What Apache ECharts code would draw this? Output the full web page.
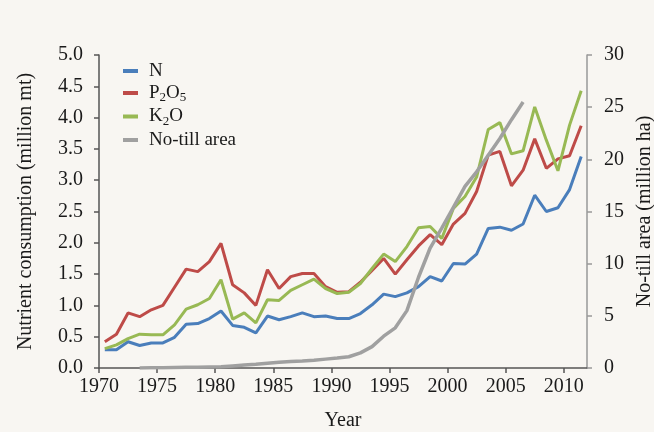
<!DOCTYPE html>
<html>
<head>
<meta charset="utf-8">
<script src="https://cdn.jsdelivr.net/npm/echarts@6/dist/echarts.min.js"></script>
<style>
    html, body { margin: 0; padding: 0; background: #f8f6f2; }
    #chart { width: 654px; height: 432px; }
</style>
</head>
<body>
<div id="chart"></div>
<script>
// years 1970 - 2011
var years = [];
for (var y = 1970; y <= 2011; y++) years.push(String(y));

var nitrogen = [0.29, 0.29, 0.42, 0.36, 0.40, 0.40, 0.49, 0.70, 0.71, 0.79,
    0.91, 0.68, 0.65, 0.56, 0.83, 0.77, 0.82, 0.88, 0.82, 0.83,
    0.79, 0.79, 0.87, 1.01, 1.18, 1.14, 1.20, 1.30, 1.46, 1.39,
    1.67, 1.66, 1.82, 2.23, 2.25, 2.20, 2.30, 2.76, 2.50, 2.56,
    2.85, 3.38];
var phosphate = [0.42, 0.54, 0.88, 0.82, 0.93, 1.00, 1.29, 1.58, 1.54, 1.70,
    1.99, 1.33, 1.20, 1.00, 1.57, 1.27, 1.46, 1.51, 1.51, 1.30,
    1.21, 1.22, 1.37, 1.56, 1.75, 1.50, 1.73, 1.95, 2.13, 1.97,
    2.30, 2.47, 2.82, 3.40, 3.46, 2.91, 3.16, 3.66, 3.19, 3.34,
    3.39, 3.87];
var potash = [0.31, 0.37, 0.47, 0.54, 0.53, 0.53, 0.69, 0.94, 1.01, 1.11,
    1.41, 0.78, 0.88, 0.72, 1.09, 1.08, 1.24, 1.33, 1.42, 1.27,
    1.19, 1.21, 1.35, 1.59, 1.82, 1.70, 1.94, 2.24, 2.26, 2.07,
    2.55, 2.74, 3.05, 3.81, 3.92, 3.42, 3.47, 4.17, 3.64, 3.15,
    3.88, 4.43];
// million ha, no data before 1973 or after 2006
var noTill = [null, null, null, 0.0, 0.02, 0.03, 0.05, 0.07, 0.08, 0.10,
    0.12, 0.20, 0.28, 0.35, 0.45, 0.55, 0.62, 0.68, 0.75, 0.85,
    0.95, 1.08, 1.45, 2.05, 3.05, 3.85, 5.5, 8.7, 11.5, 13.4,
    15.4, 17.4, 18.8, 20.4, 22.0, 23.8, 25.5, null, null, null,
    null, null];

var font = "'Liberation Serif', 'Times New Roman', serif";
var textColor = "#1a1a1a";

var chart = echarts.init(document.getElementById("chart"));

chart.setOption({
    backgroundColor: "#f8f6f2",
    animation: false,
    textStyle: { fontFamily: font, color: textColor },
    grid: { left: 99, right: 67, top: 55, bottom: 64, outerBoundsMode: "none" },
    legend: {
        orient: "vertical",
        left: 118,
        top: 56,
        itemWidth: 15,
        itemHeight: 4,
        itemGap: 2,
        icon: "rect",
        data: ["N", "P2O5", "K2O", "No-till area"],
        formatter: function (name) {
            if (name === "P2O5") return "P{sub|2}O{sub|5}";
            if (name === "K2O") return "K{sub|2}O";
            return name;
        },
        textStyle: {
            fontFamily: font,
            fontSize: 19,
            color: textColor,
            padding: [0, 0, 0, 6],
            lineHeight: 20,
            rich: {
                sub: { fontFamily: font, fontSize: 13, color: textColor, padding: [10, 0, 0, 0] }
            }
        }
    },
    xAxis: [{
        type: "category",
        data: years,
        boundaryGap: true,
        show: false
    }, {
        type: "value",
        position: "bottom",
        min: 1970,
        max: 2012,
        interval: 5,
        name: "Year",
        nameLocation: "middle",
        nameGap: 43,
        nameTextStyle: { fontFamily: font, fontSize: 20, color: textColor },
        axisLine: { lineStyle: { color: "#555", width: 1.5 } },
        axisTick: { length: 5, lineStyle: { color: "#555", width: 1.5 } },
        axisLabel: {
            fontFamily: font, fontSize: 20, color: textColor, margin: 9,
            showMaxLabel: false,
            formatter: function (v) { return v % 5 === 0 ? String(v) : ""; }
        },
        splitLine: { show: false }
    }],
    yAxis: [{
        type: "value",
        min: 0,
        max: 5,
        interval: 0.5,
        name: "Nutrient consumption (million mt)",
        nameLocation: "middle",
        nameGap: 63,
        nameTextStyle: { fontFamily: font, fontSize: 20, color: textColor },
        axisLine: { show: true, lineStyle: { color: "#555", width: 1.5 } },
        axisTick: { show: true, length: 5, lineStyle: { color: "#555", width: 1.5 } },
        axisLabel: {
            fontFamily: font, fontSize: 20, color: textColor, margin: 16,
            formatter: function (v) { return v.toFixed(1); }
        },
        splitLine: { show: false }
    }, {
        type: "value",
        position: "right",
        min: 0,
        max: 30,
        interval: 5,
        name: "No-till area (million ha)",
        nameLocation: "middle",
        nameGap: 42,
        nameRotate: 90,
        nameTextStyle: { fontFamily: font, fontSize: 20, color: textColor },
        axisLine: { show: true, lineStyle: { color: "#999", width: 1.5 } },
        axisTick: { show: true, length: 5, lineStyle: { color: "#999", width: 1.5 } },
        axisLabel: { fontFamily: font, fontSize: 20, color: textColor, margin: 17 },
        splitLine: { show: false }
    }],
    series: [{
        name: "N",
        type: "line",
        data: nitrogen,
        symbol: "none",
        lineStyle: { width: 3, color: "#4a7ebb" },
        itemStyle: { color: "#4a7ebb" }
    }, {
        name: "P2O5",
        type: "line",
        data: phosphate,
        symbol: "none",
        lineStyle: { width: 3, color: "#be4b48" },
        itemStyle: { color: "#be4b48" }
    }, {
        name: "K2O",
        type: "line",
        data: potash,
        symbol: "none",
        lineStyle: { width: 3, color: "#98b954" },
        itemStyle: { color: "#98b954" }
    }, {
        name: "No-till area",
        type: "line",
        yAxisIndex: 1,
        data: noTill,
        symbol: "none",
        lineStyle: { width: 3.5, color: "#a0a0a0" },
        itemStyle: { color: "#a0a0a0" }
    }]
});
</script>
</body>
</html>
